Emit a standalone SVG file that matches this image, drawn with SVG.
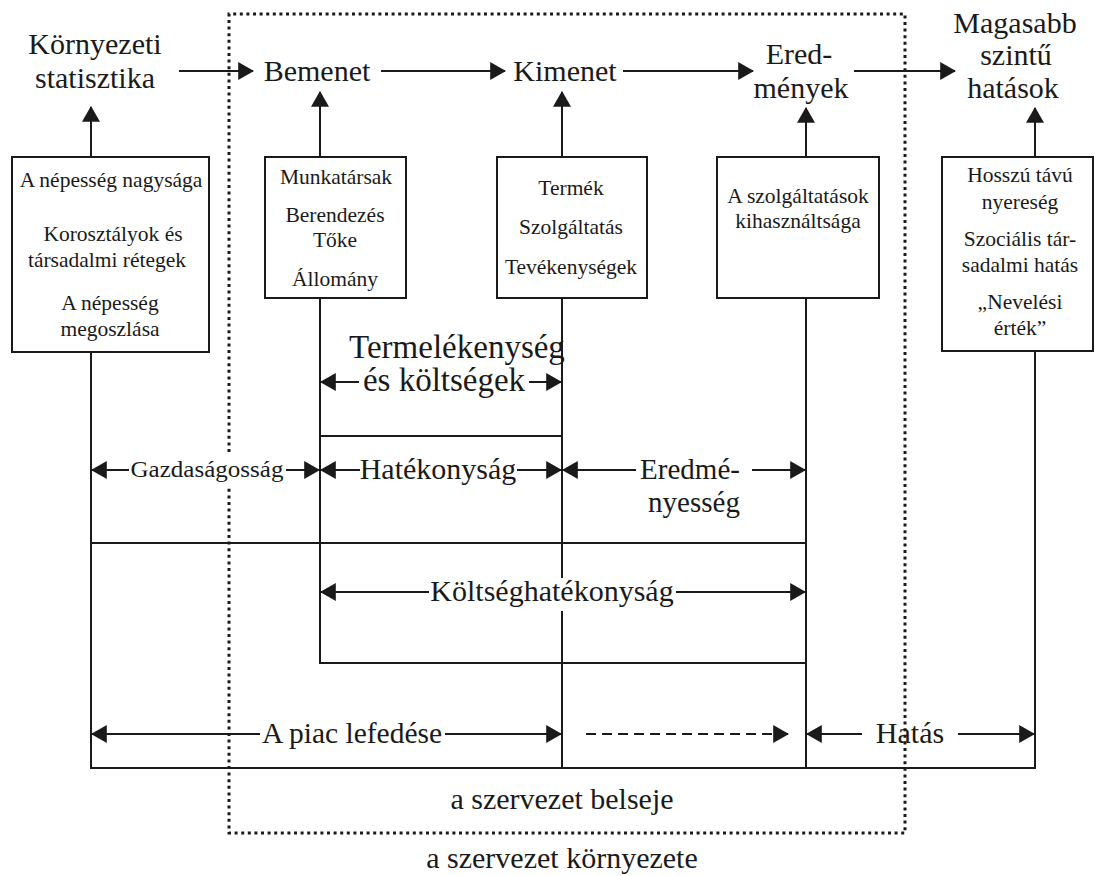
<svg xmlns="http://www.w3.org/2000/svg" width="1096" height="876" viewBox="0 0 1096 876" font-family="'Liberation Serif', 'DejaVu Serif', serif">
<style>
text{font-family:'Liberation Serif','DejaVu Serif',serif;fill:#1a1a1a;text-anchor:middle}
.big{font-size:30px}
.box{font-size:21.5px}
.frame{fill:#fff;stroke:#1a1a1a;stroke-width:2}
.ln{stroke:#1a1a1a;stroke-width:2;fill:none}
.ar{stroke:#1a1a1a;stroke-width:2;fill:none;marker-end:url(#ah)}
.dash{stroke:#1a1a1a;stroke-width:2;fill:none;stroke-dasharray:10 6;marker-end:url(#ah)}
.dot{stroke:#1a1a1a;stroke-width:3;fill:none;stroke-dasharray:3 3.6}
</style>
<defs>
<marker id="ah" markerUnits="userSpaceOnUse" markerWidth="16" markerHeight="18" viewBox="0 0 15 17" refX="14" refY="8.5" orient="auto">
<path d="M0,0 L15,8.5 L0,17 z" fill="#1a1a1a"/>
</marker>
</defs>
<rect width="1096" height="876" fill="#fff"/>
<g id="boundary">
<path class="dot" d="M229,452 V14 H905 V833 H229 V488"/>
<text x="562" y="809" style="font-size:30px">a szervezet belseje</text>
<text x="562" y="868" style="font-size:30px">a szervezet környezete</text>
</g>
<g id="connectors">
<line class="ar" x1="179" y1="71" x2="253" y2="71"/>
<line class="ar" x1="381" y1="71" x2="505" y2="71"/>
<line class="ar" x1="623" y1="71" x2="753" y2="71"/>
<line class="ar" x1="854" y1="71" x2="955" y2="71"/>
<line class="ar" x1="91" y1="157" x2="91" y2="107"/>
<line class="ar" x1="320" y1="157" x2="320" y2="92"/>
<line class="ar" x1="562" y1="157" x2="562" y2="92"/>
<line class="ar" x1="806" y1="157" x2="806" y2="108"/>
<line class="ar" x1="1035" y1="157" x2="1035" y2="108"/>
<line class="ln" x1="91" y1="352" x2="91" y2="769"/>
<line class="ln" x1="320" y1="298" x2="320" y2="664"/>
<line class="ln" x1="562" y1="298" x2="562" y2="578"/>
<line class="ln" x1="562" y1="611" x2="562" y2="769"/>
<line class="ln" x1="806" y1="298" x2="806" y2="769"/>
<line class="ln" x1="1035" y1="352" x2="1035" y2="769"/>
<line class="ln" x1="320" y1="436" x2="562" y2="436"/>
<line class="ln" x1="91" y1="543" x2="806" y2="543"/>
<line class="ln" x1="320" y1="663" x2="806" y2="663"/>
<line class="ln" x1="90" y1="768" x2="1036" y2="768"/>
<line class="ar" x1="359" y1="382" x2="321" y2="382"/>
<line class="ar" x1="529" y1="382" x2="561" y2="382"/>
<line class="ar" x1="129" y1="470" x2="92" y2="470"/>
<line class="ar" x1="286" y1="470" x2="319" y2="470"/>
<line class="ar" x1="360" y1="470" x2="321" y2="470"/>
<line class="ar" x1="517" y1="470" x2="561" y2="470"/>
<line class="ar" x1="636" y1="470" x2="563" y2="470"/>
<line class="ar" x1="752" y1="470" x2="805" y2="470"/>
<line class="ar" x1="429" y1="592" x2="321" y2="592"/>
<line class="ar" x1="676" y1="592" x2="805" y2="592"/>
<line class="ar" x1="260" y1="734" x2="92" y2="734"/>
<line class="ar" x1="445" y1="734" x2="561" y2="734"/>
<line class="dash" x1="586" y1="734" x2="788" y2="734"/>
<line class="ar" x1="862" y1="734" x2="807" y2="734"/>
<line class="ar" x1="958" y1="734" x2="1034" y2="734"/>
</g>
<g id="kornyezeti">
<text class="big" x="95" y="54">Környezeti</text>
<text class="big" x="95" y="88">statisztika</text>
</g>
<g id="bemenet"><text class="big" x="317" y="81">Bemenet</text></g>
<g id="kimenet"><text class="big" x="565" y="81">Kimenet</text></g>
<g id="eredmenyek">
<text class="big" x="799" y="64">Ered-</text>
<text class="big" x="801" y="98">mények</text>
</g>
<g id="magasabb">
<text class="big" x="1015" y="33">Magasabb</text>
<text class="big" x="1016" y="65">szintű</text>
<text class="big" x="1013" y="98">hatások</text>
</g>
<g id="box-nepesseg">
<rect class="frame" x="12" y="157" width="197" height="195"/>
<text class="box" x="111" y="187">A népesség nagysága</text>
<text class="box" x="113" y="241">Korosztályok és</text>
<text class="box" x="107" y="267">társadalmi rétegek</text>
<text class="box" x="110" y="310">A népesség</text>
<text class="box" x="110" y="336">megoszlása</text>
</g>
<g id="box-munkatarsak">
<rect class="frame" x="265" y="157" width="141" height="141"/>
<text class="box" x="336" y="184">Munkatársak</text>
<text class="box" x="335" y="222">Berendezés</text>
<text class="box" x="335" y="247">Tőke</text>
<text class="box" x="335" y="286">Állomány</text>
</g>
<g id="box-termek">
<rect class="frame" x="497" y="157" width="150" height="141"/>
<text class="box" x="571" y="195">Termék</text>
<text class="box" x="571" y="234">Szolgáltatás</text>
<text class="box" x="571" y="274">Tevékenységek</text>
</g>
<g id="box-szolgaltatasok">
<rect class="frame" x="717" y="157" width="162" height="141"/>
<text class="box" x="798" y="203">A szolgáltatások</text>
<text class="box" x="798" y="228">kihasználtsága</text>
</g>
<g id="box-hosszu">
<rect class="frame" x="942" y="157" width="151" height="194"/>
<text class="box" x="1020" y="182">Hosszú távú</text>
<text class="box" x="1020" y="209">nyereség</text>
<text class="box" x="1020" y="246">Szociális tár-</text>
<text class="box" x="1020" y="272">sadalmi hatás</text>
<text class="box" x="1020" y="309">„Nevelési</text>
<text class="box" x="1020" y="335">érték”</text>
</g>
<g id="labels">
<text x="457" y="358" style="font-size:33px">Termelékenység</text>
<text x="444" y="391" style="font-size:33px">és költségek</text>
<text x="207" y="477" style="font-size:23px" textLength="153" lengthAdjust="spacingAndGlyphs">Gazdaságosság</text>
<text x="438" y="479" style="font-size:30px">Hatékonyság</text>
<text x="690" y="479" style="font-size:29px">Eredmé-</text>
<text x="694" y="512" style="font-size:29px">nyesség</text>
<text x="552" y="601" style="font-size:30px">Költséghatékonyság</text>
<text x="352" y="743" style="font-size:29.5px">A piac lefedése</text>
<text x="910" y="743" style="font-size:30px">Hatás</text>
</g>
</svg>
